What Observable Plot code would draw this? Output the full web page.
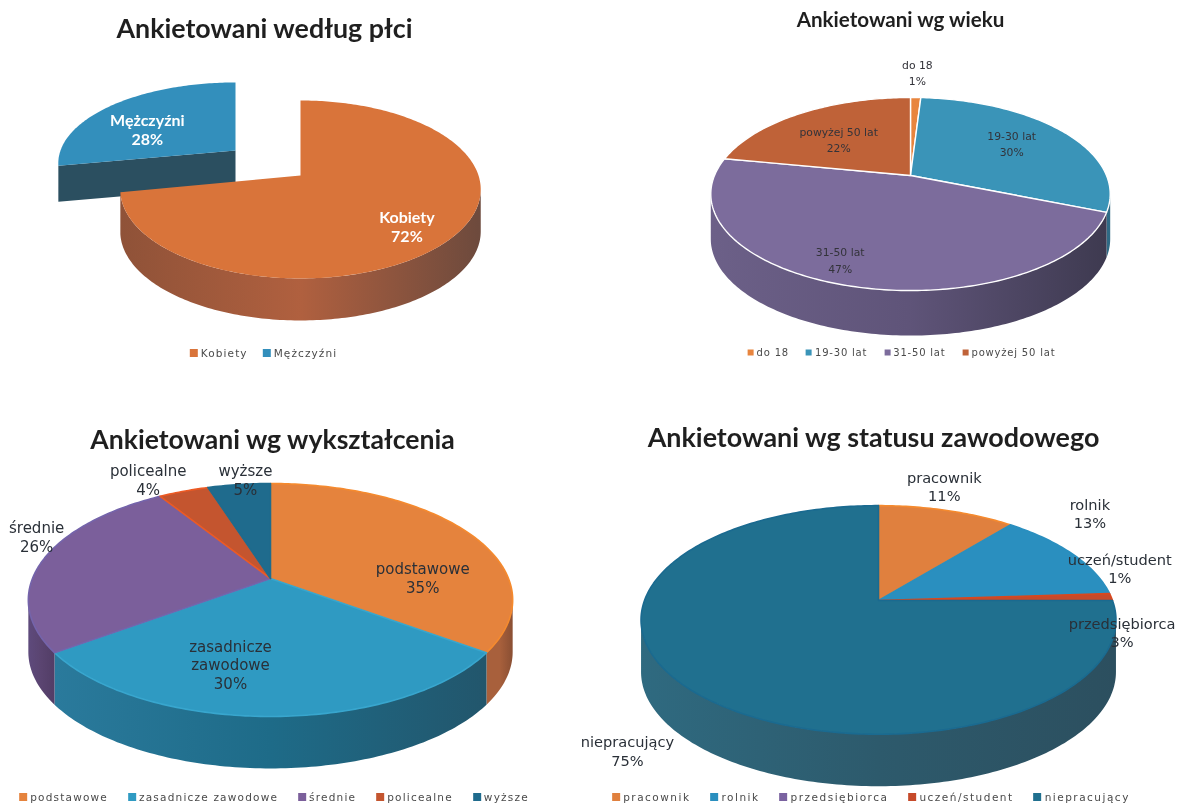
<!DOCTYPE html>
<html lang="pl"><head><meta charset="utf-8">
<script src="https://cdn.jsdelivr.net/npm/d3@7"></script>
<script src="https://cdn.jsdelivr.net/npm/@observablehq/plot@0.6"></script>
<style>
html,body{margin:0;padding:0;background:#fff;overflow:hidden;width:1177px;height:805px}
.panel{position:absolute;filter:blur(0.6px)}
.panel svg{display:block;overflow:visible;background:transparent}
.lg{position:absolute;transform:translate(-50%,-50%);white-space:nowrap;filter:blur(0.45px)}
.lg>div{display:flex!important;flex-wrap:nowrap!important;min-height:0!important;margin:0!important;width:max-content;color:#4a4a4a;font-family:"DejaVu Sans",sans-serif}
.lg span{margin-right:var(--gap)!important}
.lg span svg{margin-right:3px!important;border-radius:2px}
</style></head><body>
<script>
// ---- data
const sexTitle = "Ankietowani według płci";
const sexCategories = ["Kobiety", "Mężczyźni"];
const sexValues = [72, 28];

const ageTitle = "Ankietowani wg wieku";
const ageCategories = ["do 18", "19-30 lat", "31-50 lat", "powyżej 50 lat"];
const ageValues = [1, 30, 47, 22];

const eduTitle = "Ankietowani wg wykształcenia";
const eduCategories = ["podstawowe", "zasadnicze zawodowe", "średnie", "policealne", "wyższe"];
const eduValues = [35, 30, 26, 4, 5];

const jobTitle = "Ankietowani wg statusu zawodowego";
const jobCategories = ["pracownik", "rolnik", "przedsiębiorca", "uczeń/student", "niepracujący"];
const jobValues = [11, 13, 0, 1, 75];      // wedge sizes as drawn
const jobLabelValues = [11, 13, 3, 1, 75]; // percentages as printed

// ---- styles and layout
const panels = [
  {id:"a", ox:0, oy:0, w:588, h:402, title:sexTitle, cats:sexCategories, vals:sexValues, printed:sexValues,
   tx:264, ty:29, tsize:26.8,
   lx:271, ly:353, lsize:10.5, lspace:"1.1px", gap:"15px", swatch:8,
   cx:300, cy:175, rx:178, ry:86.8, k:0.157, depth:42,
   colors:["#d9743a","#338fbc"],
   sides:[["#8f5238","#b0603f","#6d4a3d"],["#2b4f60","#2e5163","#2b4b5b"]],
   strokes:[null,null],
   exploded:{1:{cx:235,cy:150,rx:175,ry:78.7,depth:36}},
   label:{family:"Lato",size:16,weight:700,fill:"#fff",lh:1.15},
   place:[[.72,0,8],[.7,0,12]]},
  {id:"b", ox:588, oy:0, w:589, h:402, title:ageTitle, cats:ageCategories, vals:ageValues, printed:ageValues,
   tx:900, ty:20, tsize:20.6,
   lx:910, ly:352, lsize:10, lspace:"0.8px", gap:"17px", swatch:6,
   cx:910, cy:175, rx:196, ry:93, k:0.1917, depth:45,
   colors:["#e8853e","#3a94b8","#7c6c9c","#bf6238"],
   sides:[["#a05a38","#a05a38","#a05a38"],["#2f6a85","#2f6a85","#2f6a85"],["#6c6088","#5f5479","#3e3a50"],["#8a4a30","#8a4a30","#8a4a30"]],
   strokes:["#fff","#fff","#fff","#fff"],
   label:{family:"DejaVu Sans",size:10.8,weight:400,fill:"#33333a",lh:1.5},
   place:[[1.42,0,0],[.68,-4,-1],[.8,-19,0],[.6,-3,3]]},
  {id:"c", ox:0, oy:402, w:588, h:403, title:eduTitle, cats:eduCategories, vals:eduValues, printed:eduValues,
   tx:272, ty:440, tsize:26.6,
   lx:284, ly:797, lsize:10.5, lspace:"1.2px", gap:"20px", swatch:8,
   cx:270, cy:578, rx:238, ry:112.5, k:0.1846, depth:52,
   colors:["#e5833d","#2f9ac2","#7b5f9b","#c4552f","#1f6b8d"],
   sides:[["#a8603c","#a8603c","#8a4f33"],["#2a7a9c","#1e6b88","#22566c"],["#5e4a7c","#5a4470","#523d66"],["#8a4028","#8a4028","#8a4028"],["#1f5870","#1f5870","#1f5870"]],
   strokes:["#f58a2e","#38a6ce","#7464ab","#ec5a24","#1f6b8d"],
   label:{family:"DejaVu Sans",size:15,weight:400,fill:"#2a3038",lh:1.25},
   place:[[.7,12,33],[.6,-40,10],[1.05,3,-21],[1.2,-21,3],[1.1,9,3]]},
  {id:"d", ox:588, oy:402, w:589, h:403, title:jobTitle, cats:jobCategories, vals:jobValues, printed:jobLabelValues,
   tx:873, ty:438, tsize:26.9,
   lx:881, ly:797, lsize:10.5, lspace:"1.5px", gap:"20px", swatch:8,
   cx:878, cy:600, rx:234, ry:111, k:0.17, depth:52,
   colors:["#e0803e","#2a8fbf","#7a62a0","#c64a2a","#20708f"],
   sides:[["#a05a38","#a05a38","#a05a38"],["#2a7a9c","#2a7a9c","#2a7a9c"],["#5e4a7c","#5e4a7c","#5e4a7c"],["#8a4028","#8a4028","#8a4028"],["#2f6a80","#2d5a6c","#2c4f5f"]],
   strokes:["#f58a2e","#2a8fbf","#7a62a0","#d9481e","#1a6a90"],
   label:{family:"DejaVu Sans",size:14.6,weight:400,fill:"#2a3038",lh:1.25},
   place:[[1.2,-14,-9],[1.1,0,-36],[1.05,1,39],[1.05,-3,-29],[1.2,-19,40]]}
];

const TAU = 2 * Math.PI;
// perspective projection of a point of the pie's disc
function project(g, theta, r = 1, drop = 0) {
  const w = 1 + g.k * r * Math.cos(theta);
  return {x: g.cx + g.rx * r * Math.sin(theta) / w, y: g.cy - g.ry * r * Math.cos(theta) / w + drop};
}
function arc(g, a0, a1, drop = 0) {
  const n = Math.max(1, Math.ceil((a1 - a0) / (Math.PI / 180)));
  return d3.range(n + 1).map(i => project(g, a0 + (a1 - a0) * i / n, 1, drop));
}

panels.forEach(p => {
  const total = d3.sum(p.vals);
  let acc = 0;
  const slices = p.cats.map((category, i) => {
    const a0 = acc / total * TAU; acc += p.vals[i];
    const a1 = acc / total * TAU;
    const g = {cx:p.cx, cy:p.cy, rx:p.rx, ry:p.ry, k:p.k, depth:p.depth, ...(p.exploded?.[i] || {})};
    return {category, i, a0, a1, g, value:p.vals[i], printed:p.printed[i]};
  });
  const drawn = slices.filter(s => s.value > 0);
  // exploded wedges go to the back
  const order = [...drawn].sort((a, b) => (p.exploded?.[b.i] ? 1 : 0) - (p.exploded?.[a.i] ? 1 : 0));

  const gradId = i => `side-${p.id}-${i}`;
  const marks = [];
  marks.push(() => {
    const defs = d3.create("svg:defs");
    p.sides.forEach((stops, i) => {
      const lg = defs.append("linearGradient").attr("id", gradId(i));
      stops.forEach((c, j) => lg.append("stop").attr("offset", j / (stops.length - 1)).attr("stop-color", c));
    });
    return defs.node();
  });

  order.forEach(s => {
    const g = s.g, vis0 = Math.acos(-g.k), vis1 = TAU - vis0;
    // the cut faces of a pulled-out wedge
    if (p.exploded?.[s.i]) {
      const c0 = project(g, 0, 0), c1 = project(g, s.a0), c2 = {x:c1.x, y:c1.y + g.depth}, c3 = {x:c0.x, y:c0.y + g.depth};
      marks.push(Plot.line([c0, c1, c2, c3, c0], {x:"x", y:"y", fill:p.sides[s.i][0], stroke:"none"}));
    }
    const from = Math.max(s.a0, vis0), to = Math.min(s.a1, vis1);
    if (to > from) {
      const top = arc(g, from, to), bot = arc(g, from, to, g.depth).reverse();
      marks.push(Plot.line([...top, ...bot, top[0]], {x:"x", y:"y", fill:`url(#${gradId(s.i)})`, stroke:"none"}));
    }
  });
  order.forEach(s => {
    const c = project(s.g, 0, 0);
    const pts = [c, ...arc(s.g, s.a0, s.a1), c].map(q => ({...q, category:s.category}));
    marks.push(Plot.line(pts, {x:"x", y:"y", fill:"category",
      stroke:p.strokes[s.i] || "none", strokeWidth:p.id === "b" ? 1.4 : 1.6, strokeLinejoin:"round"}));
  });

  // data labels
  const labels = slices.map(s => {
    const mid = (s.a0 + s.a1) / 2, [r, dx, dy] = p.place[s.i], q = project(s.g, mid, r);
    return {x:q.x + dx, y:q.y + dy,
      text:`${s.category.replace("zasadnicze zawodowe", "zasadnicze\nzawodowe")}\n${s.printed}%`};
  });
  marks.push(Plot.text(labels, {x:"x", y:"y", text:"text", lineAnchor:"middle", lineHeight:p.label.lh,
    fontFamily:p.label.family, fontSize:p.label.size, fontWeight:p.label.weight, fill:p.label.fill}));
  // title
  marks.push(Plot.text([p.title], {x:() => p.tx, y:() => p.ty, text:d => d, fontFamily:"Lato", fontWeight:700,
    fontSize:p.tsize, fill:"#1f1f1f", lineAnchor:"middle"}));

  const plot = Plot.plot({
    width:p.w, height:p.h, margin:0,
    x:{domain:[p.ox, p.ox + p.w], range:[0, p.w], axis:null},
    y:{domain:[p.oy, p.oy + p.h], range:[0, p.h], axis:null},
    color:{type:"ordinal", domain:p.cats, range:p.colors},
    marks
  });
  const holder = document.createElement("div");
  holder.className = "panel";
  holder.style.cssText = `left:${p.ox}px;top:${p.oy}px;width:${p.w}px;height:${p.h}px`;
  holder.append(plot);
  document.body.append(holder);

  const lg = document.createElement("div");
  lg.className = "lg";
  lg.style.cssText = `left:${p.lx}px;top:${p.ly}px;--gap:${p.gap};font-size:${p.lsize}px;letter-spacing:${p.lspace}`;
  lg.append(plot.legend("color", {swatchSize:p.swatch, style:{fontSize:p.lsize + "px", letterSpacing:p.lspace}}));
  document.body.append(lg);
});
</script>
</body></html>
